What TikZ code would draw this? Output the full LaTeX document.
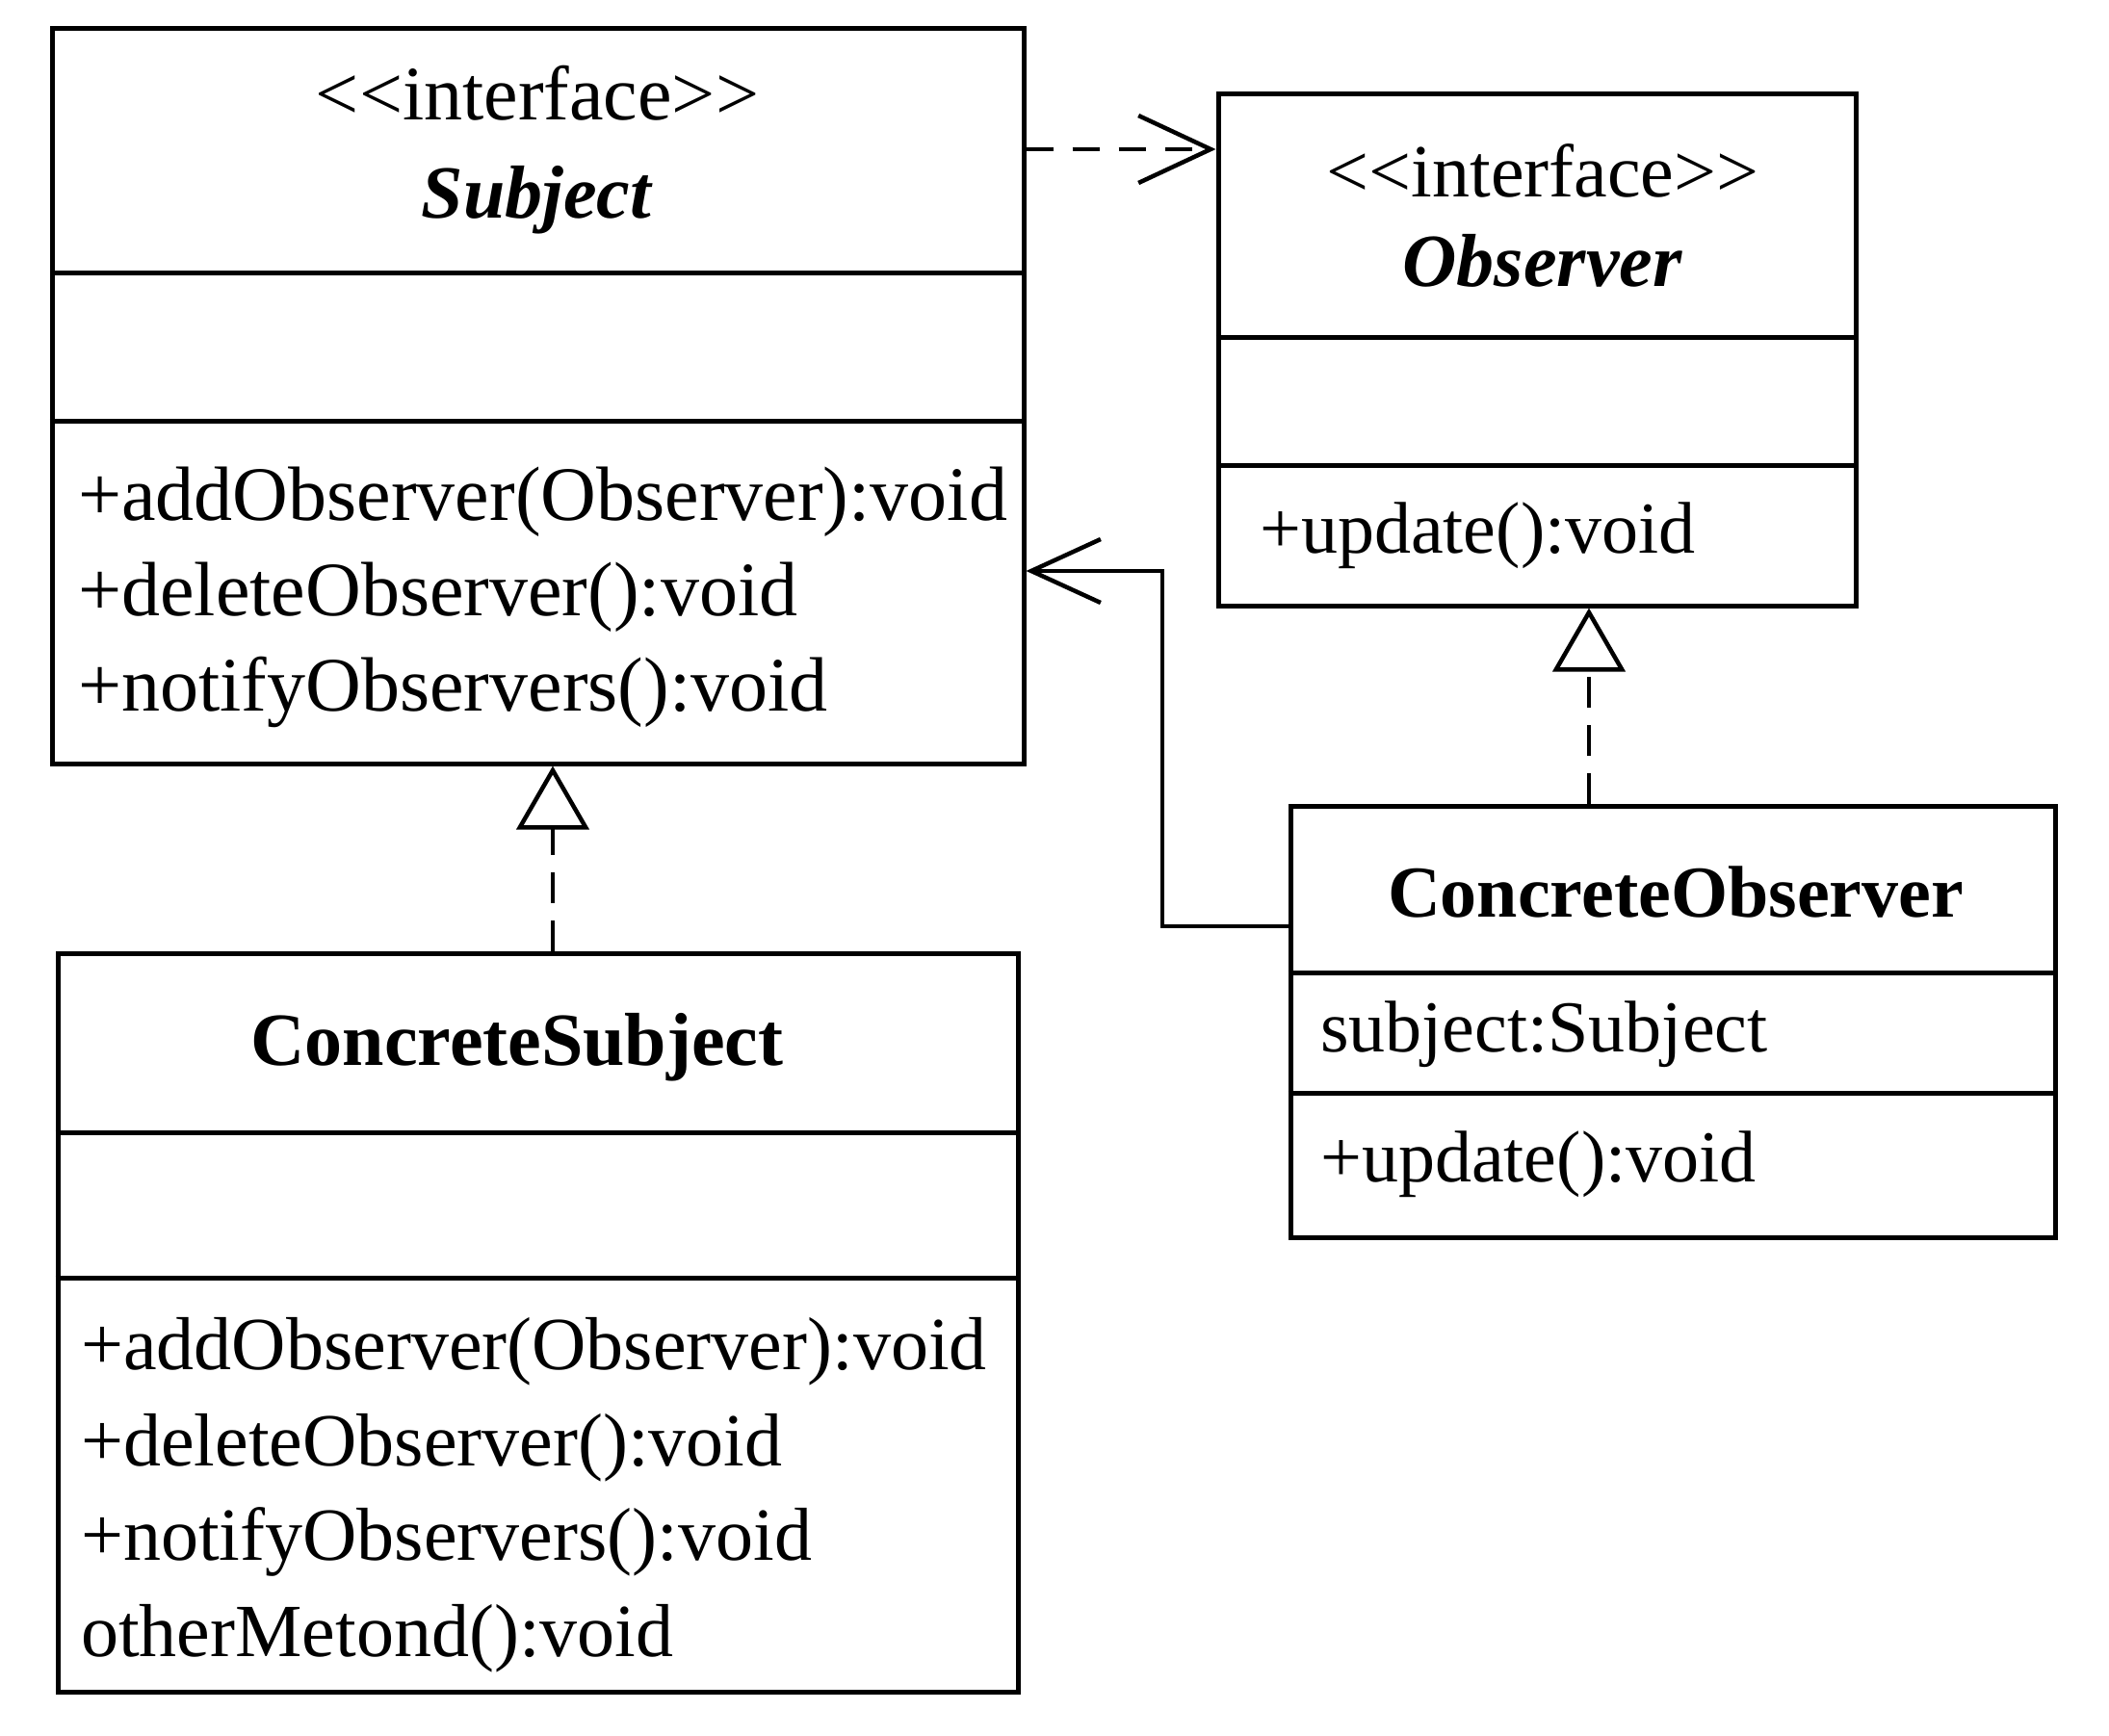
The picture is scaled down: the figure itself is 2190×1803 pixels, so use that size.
\documentclass[tikz,border=0pt]{standalone}
\usepackage{fontspec}
\setmainfont{Liberation Serif}
\usetikzlibrary{arrows.meta}
\tikzset{
  umlbox/.style={draw, rectangle, line width=5pt, inner sep=0pt},
  divider/.style={line width=5pt},
  txt/.style={inner sep=0pt, font=\fontsize{78pt}{100pt}\selectfont},
  txtl/.style={inner sep=0pt, font=\fontsize{80pt}{100pt}\selectfont},
  txts/.style={inner sep=0pt, font=\fontsize{76pt}{100pt}\selectfont},
  deparrow/.style={line width=4.5pt, dash pattern=on 28pt off 20pt,
    -{Straight Barb[length=75pt,width=70pt,line width=4.5pt]}},
  realarrow/.style={line width=4.5pt, dash pattern=on 32pt off 18pt,
    -{Triangle[open,length=66pt,width=75pt,line width=4.5pt]}},
  assocarrow/.style={line width=4.5pt,
    -{Straight Barb[length=72pt,width=66pt,line width=4.5pt]}}
}
\newcommand{\stereo}{<\kern0pt<interface>\kern0pt>}
\begin{document}
\begin{tikzpicture}[x=1pt,y=-1pt]
\useasboundingbox[fill=white] (0,0) rectangle (2190,1803);

% Subject
\node[umlbox, minimum width=1009pt, minimum height=763pt] (subj) at (558.5,411.5) {};
\draw[divider] (subj.west |- 0,284) -- (subj.east |- 0,284);
\draw[divider] (subj.west |- 0,437) -- (subj.east |- 0,437);
\node[txtl, anchor=base] (subjst) at (558,125) {\stereo};
\node[txt, anchor=base] (subjname) at (558,227) {\textbf{\textit{Subject}}};
\node[txtl, anchor=base west] (subjm1) at (81,540) {+addObserver(Observer):void};
\node[txtl, anchor=base west] (subjm2) at (81,639) {+deleteObserver():void};
\node[txtl, anchor=base west] (subjm3) at (81,738) {+notifyObservers():void};

% Observer
\node[umlbox, minimum width=662pt, minimum height=531pt] (obs) at (1596,363.5) {};
\draw[divider] (obs.west |- 0,350) -- (obs.east |- 0,350);
\draw[divider] (obs.west |- 0,483) -- (obs.east |- 0,483);
\node[txt, anchor=base] (obsst) at (1602,205) {\stereo};
\node[txt, anchor=base] (obsname) at (1602,298) {\textbf{\textit{Observer}}};
\node[txts, anchor=base west] (obsm1) at (1308,574) {+update():void};

% ConcreteObserver
\node[umlbox, minimum width=794pt, minimum height=448pt] (cobs) at (1737,1061) {};
\draw[divider] (cobs.west |- 0,1010) -- (cobs.east |- 0,1010);
\draw[divider] (cobs.west |- 0,1135) -- (cobs.east |- 0,1135);
\node[txts, anchor=base] (cobsname) at (1740,952) {\textbf{ConcreteObserver}};
\node[txts, anchor=base west] (cobsa1) at (1371,1092) {subject:Subject};
\node[txts, anchor=base west] (cobsm1) at (1371,1227) {+update():void};

% ConcreteSubject
\node[umlbox, minimum width=997pt, minimum height=767pt] (csub) at (558.5,1373.5) {};
\draw[divider] (csub.west |- 0,1176) -- (csub.east |- 0,1176);
\draw[divider] (csub.west |- 0,1327) -- (csub.east |- 0,1327);
\node[txt, anchor=base] (csubname) at (537,1106) {\textbf{ConcreteSubject}};
\node[txt, anchor=base west] (csubm1) at (84,1422) {+addObserver(Observer):void};
\node[txt, anchor=base west] (csubm2) at (84,1522) {+deleteObserver():void};
\node[txt, anchor=base west] (csubm3) at (84,1620) {+notifyObservers():void};
\node[txt, anchor=base west] (csubm4) at (84,1720) {otherMetond():void};

% connectors
\coordinate (dy) at (0,155);
\draw[deparrow] (subj.east |- dy) -- (obs.west |- dy);

\coordinate (rx1) at (574,0);
\draw[realarrow] (csub.north -| rx1) -- (subj.south -| rx1);

\coordinate (rx2) at (1650,0);
\draw[realarrow] (cobs.north -| rx2) -- (obs.south -| rx2);

\coordinate (ay1) at (0,962);
\coordinate (ay2) at (0,593);
\coordinate (ax) at (1207,0);
\draw[assocarrow] (cobs.west |- ay1) -- (ax |- ay1) -- (ax |- ay2) -- (subj.east |- ay2);
\end{tikzpicture}
\end{document}
